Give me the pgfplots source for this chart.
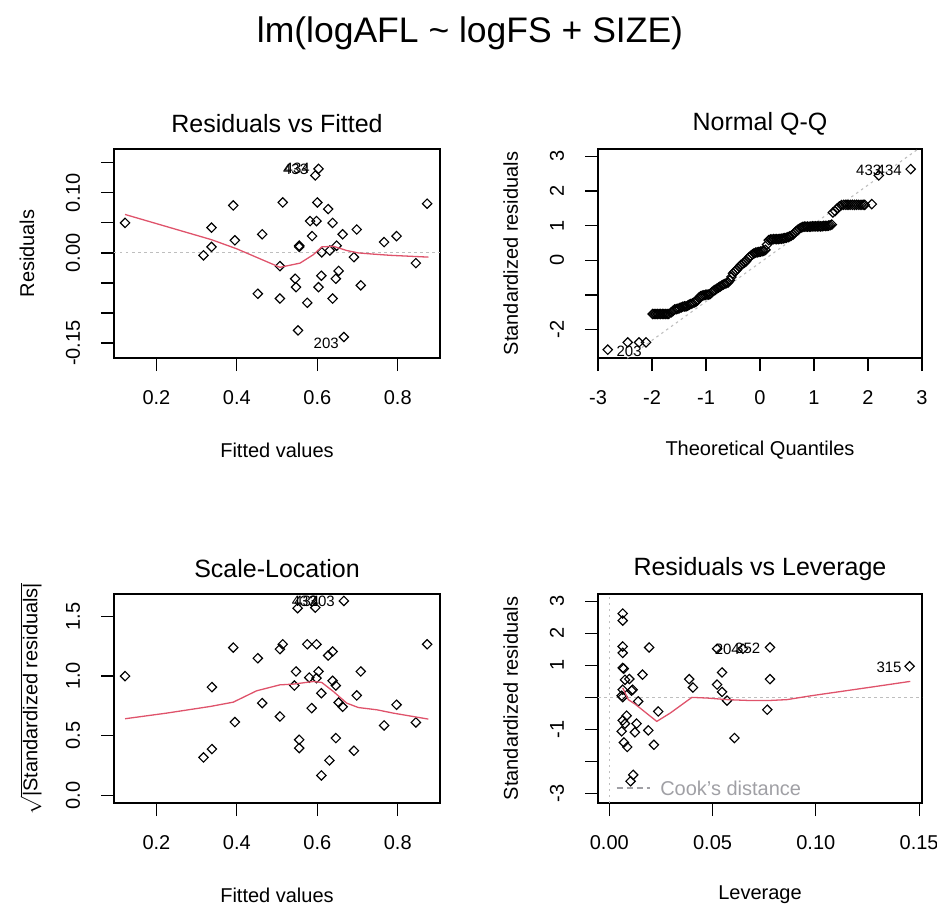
\documentclass[border=0pt]{standalone}
\usepackage{pgfplots}
\pgfplotsset{compat=1.18}
\usepackage{amsmath}
\usepackage{fontspec}
\setmainfont{Liberation Sans}
\definecolor{rred}{HTML}{DF536B}
\definecolor{rgray}{RGB}{190,190,190}
\definecolor{cookgray}{RGB}{160,160,165}
\pgfplotsset{
  rplot/.style={
    scale only axis,
    axis line style={line width=1.2pt},
    tick style={line width=1.2pt, black},
    tick align=outside,
    major tick length=13pt,
    xtick pos=bottom, ytick pos=left,
    tick label style={font=\fontsize{20}{24}\selectfont},
    xticklabel style={anchor=center, yshift=-27pt},
    yticklabel style={xshift=-28pt, rotate=90, anchor=center},
    label style={font=\fontsize{20}{24}\selectfont},
    xlabel style={at={(axis description cs:0.5,-0.44)}, anchor=center},
    ylabel style={at={(axis description cs:-0.267,0.5)}, anchor=center},
    title style={font=\fontsize{25}{30}\selectfont, at={(axis description cs:0.5,1.091)}, anchor=center},
    clip mode=individual,
  },
  pts/.style={only marks, mark=square, mark size=3.3pt,
    mark options={rotate=45, line width=1.15pt, draw=black, fill=none}},
  lows/.style={rred, line width=1.3pt, no marks},
  dotl/.style={rgray, line width=1.1pt, dash pattern=on 2.5pt off 3.5pt, no marks},
}
\newcommand{\idf}{\fontsize{15}{18}\selectfont}
\begin{document}
\begin{tikzpicture}
\path[use as bounding box] (0pt,0pt) rectangle (937pt,-906pt);
\node[font=\fontsize{35.5}{42}\selectfont] at (470pt,-33pt) {lm(logAFL \textasciitilde{} logFS + SIZE)};

% ---------- Residuals vs Fitted ----------
\begin{axis}[rplot, at={(114pt,-358pt)}, anchor=south west,
  width=326pt, height=209pt,
  xmin=0.0945, xmax=0.905, ymin=-0.175, ymax=0.173,
  xtick={0.2,0.4,0.6,0.8}, xticklabels={0.2,0.4,0.6,0.8},
  ytick={-0.15,-0.10,-0.05,0,0.05,0.10,0.15},
  yticklabels={-0.15,{},{},0.00,{},0.10,{}},
  title={Residuals vs Fitted}, xlabel={Fitted values}, ylabel={Residuals}]
\addplot[dotl] coordinates {(0.0945,0) (0.905,0)};
\addplot[pts] coordinates {
(0.122,0.050) (0.317,-0.004) (0.337,0.042) (0.337,0.010) (0.391,0.079)
(0.395,0.021) (0.452,-0.068) (0.463,0.031) (0.507,-0.022) (0.507,-0.076)
(0.514,0.084) (0.545,-0.043) (0.547,-0.057) (0.552,-0.129) (0.555,0.012)
(0.555,0.010) (0.575,-0.083) (0.582,0.053) (0.587,0.028) (0.595,0.129)
(0.598,0.053) (0.600,0.084) (0.603,0.140) (0.603,-0.057) (0.611,0.001)
(0.610,-0.038) (0.627,0.073) (0.631,0.004) (0.638,0.050) (0.638,-0.076)
(0.646,-0.043) (0.648,0.012) (0.653,-0.030) (0.663,0.031) (0.666,-0.140)
(0.691,-0.007) (0.698,0.039) (0.708,-0.054) (0.766,0.018) (0.797,0.028)
(0.845,-0.017) (0.873,0.082)};
\addplot[lows] coordinates {
(0.122,0.064) (0.337,0.022) (0.399,0.007) (0.507,-0.024) (0.557,-0.017)
(0.590,-0.003) (0.611,0.010) (0.640,0.011) (0.673,0.004) (0.702,0.000)
(0.739,-0.002) (0.781,-0.004) (0.876,-0.007)};
\node[font=\idf, anchor=east] at (axis cs:0.586,0.139) {433};
\node[font=\idf, anchor=east] at (axis cs:0.590,0.140) {434};
\node[font=\idf] at (axis cs:0.622,-0.150) {203};
\end{axis}

% ---------- Normal Q-Q ----------
\begin{axis}[rplot, at={(598pt,-358pt)}, anchor=south west,
  width=324pt, height=209pt,
  xmin=-3, xmax=3, ymin=-2.82, ymax=3.21,
  xtick={-3,-2,-1,0,1,2,3}, xticklabels={-3,-2,-1,0,1,2,3},
  ytick={-2,-1,0,1,2,3}, yticklabels={-2,{},0,1,2,3},
  ylabel style={at={(axis description cs:-0.269,0.5)}},
  title={Normal Q-Q}, xlabel={Theoretical Quantiles}, ylabel={Standardized residuals}]
\addplot[dotl] coordinates {(-3,-3.43) (3,3.29)};
\addplot[pts] coordinates {
(-2.82,-2.58) (-2.45,-2.37) (-2.24,-2.37) (-2.11,-2.37)
(-1.99,-1.55) (-1.96,-1.55) (-1.93,-1.55) (-1.90,-1.55) (-1.87,-1.55) (-1.84,-1.55)
(-1.81,-1.55) (-1.78,-1.55) (-1.75,-1.55) (-1.72,-1.55) (-1.69,-1.55)
(-1.64,-1.50) (-1.61,-1.46) (-1.58,-1.42) (-1.55,-1.41) (-1.52,-1.40) (-1.49,-1.38)
(-1.46,-1.36) (-1.43,-1.34) (-1.40,-1.33) (-1.37,-1.33) (-1.34,-1.31) (-1.31,-1.28)
(-1.28,-1.26) (-1.25,-1.24) (-1.22,-1.22) (-1.19,-1.20) (-1.16,-1.16) (-1.13,-1.08)
(-1.10,-1.04) (-1.07,-1.02) (-1.04,-1.01) (-1.01,-1.00) (-0.98,-0.99) (-0.95,-0.99)
(-0.92,-0.97) (-0.89,-0.92) (-0.86,-0.88) (-0.83,-0.85) (-0.80,-0.82) (-0.77,-0.79)
(-0.74,-0.76) (-0.71,-0.73) (-0.68,-0.70) (-0.65,-0.68) (-0.62,-0.66) (-0.59,-0.64)
(-0.56,-0.58) (-0.53,-0.48) (-0.50,-0.38) (-0.47,-0.33) (-0.44,-0.29) (-0.41,-0.24)
(-0.38,-0.18) (-0.35,-0.13) (-0.32,-0.10) (-0.29,-0.07) (-0.26,-0.03) (-0.23,0.04)
(-0.20,0.09) (-0.17,0.13) (-0.14,0.17) (-0.11,0.20) (-0.08,0.22) (-0.05,0.23)
(-0.02,0.24) (0.01,0.25) (0.04,0.26) (0.07,0.27) (0.10,0.30) (0.13,0.45)
(0.16,0.58) (0.19,0.60) (0.22,0.60) (0.25,0.61) (0.28,0.61) (0.31,0.61)
(0.34,0.61) (0.37,0.62) (0.40,0.62) (0.43,0.63) (0.46,0.64) (0.49,0.65)
(0.52,0.67) (0.55,0.69) (0.58,0.71) (0.61,0.74) (0.64,0.79) (0.67,0.84)
(0.70,0.88) (0.73,0.91) (0.76,0.94) (0.79,0.96) (0.82,0.97) (0.85,0.97)
(0.88,0.97) (0.91,0.97) (0.94,0.97) (0.97,0.98) (1.00,0.98) (1.03,0.98)
(1.06,0.98) (1.09,0.98) (1.12,0.98) (1.15,0.98) (1.18,0.99) (1.21,0.99)
(1.24,0.99) (1.27,1.00) (1.30,1.01) (1.33,1.03)
(1.35,1.38) (1.39,1.42) (1.43,1.50) (1.47,1.55) (1.51,1.59) (1.55,1.60)
(1.59,1.60) (1.63,1.60) (1.67,1.60) (1.71,1.60) (1.75,1.60) (1.79,1.60)
(1.83,1.60) (1.87,1.60) (1.91,1.60) (1.94,1.60) (2.07,1.62)
(2.20,2.45) (2.79,2.63)};
\node[font=\idf, anchor=west] at (axis cs:-2.72,-2.62) {203};
\node[font=\idf, anchor=east] at (axis cs:2.31,2.60) {433};
\node[font=\idf, anchor=east] at (axis cs:2.69,2.60) {434};
\end{axis}

% ---------- Scale-Location ----------
\begin{axis}[rplot, at={(114pt,-803pt)}, anchor=south west,
  width=326pt, height=209pt,
  xmin=0.0945, xmax=0.905, ymin=-0.064, ymax=1.687,
  xtick={0.2,0.4,0.6,0.8}, xticklabels={0.2,0.4,0.6,0.8},
  ytick={0,0.5,1,1.5}, yticklabels={0.0,0.5,1.0,1.5},
  ylabel style={at={(axis description cs:-0.255,0.5)}, inner sep=0pt},
  title={Scale-Location}, xlabel={Fitted values},
  ylabel={$\sqrt{\text{|Standardized residuals|}}$}]
\addplot[pts] coordinates {
(0.122,0.999) (0.317,0.318) (0.338,0.388) (0.338,0.907) (0.391,1.238)
(0.395,0.614) (0.452,1.149) (0.463,0.773) (0.507,0.661) (0.507,1.225)
(0.514,1.266) (0.543,0.920) (0.547,1.038) (0.551,1.568) (0.555,0.466)
(0.555,0.396) (0.575,1.266) (0.580,0.987) (0.586,0.731) (0.595,1.573)
(0.598,1.266) (0.598,0.982) (0.603,1.038) (0.610,0.856) (0.610,0.167)
(0.627,1.172) (0.630,0.293) (0.638,1.205) (0.638,0.960) (0.646,0.920)
(0.646,0.480) (0.653,0.778) (0.663,0.742) (0.666,1.629) (0.691,0.374)
(0.698,0.837) (0.708,1.038) (0.766,0.586) (0.797,0.759) (0.845,0.611)
(0.873,1.266)};
\addplot[lows] coordinates {
(0.122,0.642) (0.225,0.689) (0.334,0.745) (0.391,0.781) (0.449,0.876)
(0.507,0.926) (0.540,0.932) (0.590,0.954) (0.611,0.946) (0.640,0.870)
(0.673,0.773) (0.702,0.736) (0.748,0.717) (0.789,0.689) (0.876,0.639)};
\node[font=\idf, anchor=west] at (axis cs:0.528,1.625) {433};
\node[font=\idf, anchor=west] at (axis cs:0.534,1.625) {434};
\node[font=\idf, anchor=east] at (axis cs:0.652,1.629) {203};
\end{axis}

% ---------- Residuals vs Leverage ----------
\begin{axis}[rplot, at={(598pt,-803pt)}, anchor=south west,
  width=324pt, height=209pt,
  xmin=-0.00546, xmax=0.1514, ymin=-3.30, ymax=3.23,
  xtick={0,0.05,0.10,0.15}, xticklabels={0.00,0.05,0.10,0.15},
  ytick={-3,-2,-1,0,1,2,3}, yticklabels={-3,{},-1,{},1,2,3},
  ylabel style={at={(axis description cs:-0.269,0.5)}},
  title={Residuals vs Leverage}, xlabel={Leverage}, ylabel={Standardized residuals}]
\addplot[dotl] coordinates {(-0.00546,0) (0.1514,0)};
\addplot[dotl] coordinates {(0,-3.30) (0,3.23)};
\addplot[pts] coordinates {
(0.0065,2.62) (0.0065,2.40) (0.0065,1.59) (0.0065,1.39) (0.0193,1.56)
(0.0065,0.92) (0.0070,0.90) (0.0076,0.55) (0.0097,0.575) (0.0161,0.71)
(0.0065,0.24) (0.0108,0.21) (0.0113,0.24) (0.0065,0.01) (0.0060,0.05)
(0.0140,-0.125) (0.0237,-0.44) (0.0084,-0.57) (0.0065,-0.72) (0.0076,-0.82)
(0.0132,-0.82) (0.0060,-1.06) (0.0124,-1.09) (0.0189,-1.03) (0.0071,-1.41)
(0.0087,-1.55) (0.0216,-1.48) (0.0116,-2.42) (0.0103,-2.62)
(0.0387,0.57) (0.0405,0.31) (0.0522,1.52) (0.0546,0.78) (0.0522,0.40)
(0.0546,0.17) (0.0570,-0.10) (0.0606,-1.27) (0.0647,1.52) (0.0778,1.56)
(0.0778,0.57) (0.0765,-0.385) (0.1454,0.97)};
\addplot[lows] coordinates {
(0.0065,0.30) (0.0092,-0.07) (0.0125,-0.21) (0.0230,-0.75) (0.0295,-0.49)
(0.0400,0.00) (0.0473,-0.02) (0.0570,-0.07) (0.0690,-0.10) (0.0765,-0.10)
(0.0860,-0.07) (0.0976,0.05) (0.1105,0.17) (0.1267,0.32) (0.1457,0.50)};
\node[font=\idf, anchor=east] at (axis cs:0.0649,1.50) {204};
\node[font=\idf, anchor=east] at (axis cs:0.0748,1.54) {352};
\node[font=\idf, anchor=east] at (axis cs:0.1432,0.94) {315};
\draw[cookgray, line width=1.1pt, dash pattern=on 6pt off 4pt] (axis cs:0.0036,-2.83) -- (axis cs:0.0198,-2.83);
\node[font=\fontsize{20}{24}\selectfont, text=cookgray, anchor=west, inner sep=0pt] at (axis cs:0.0246,-2.83) {Cook's distance};
\end{axis}
\end{tikzpicture}
\end{document}
